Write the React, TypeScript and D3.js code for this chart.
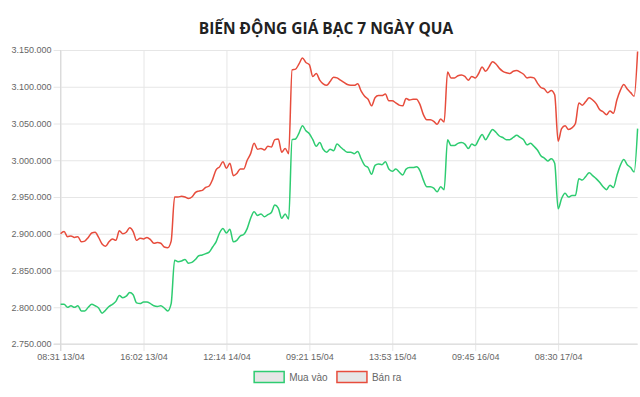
import React, { useEffect, useRef } from 'react';
import * as d3 from 'd3';

// gia mua vao / ban ra (dong / luong), 168 moc trong 7 ngay
const buyPrices = [
  2804, 2804, 2800, 2802, 2800, 2802, 2795, 2795, 2800, 2804, 2802, 2799, 2792, 2796, 2801, 2804,
  2808, 2816, 2813, 2815, 2820, 2817, 2806, 2805, 2807, 2807, 2805, 2802, 2801, 2802, 2799, 2795,
  2805, 2864, 2862, 2863, 2865, 2860, 2861, 2865, 2870, 2871, 2873, 2875, 2882, 2889, 2901, 2907,
  2901, 2906, 2889, 2891, 2897, 2899, 2907, 2921, 2930, 2925, 2927, 2923, 2926, 2929, 2939, 2935,
  2921, 2927, 2920, 3028, 3029, 3037, 3047, 3040, 3036, 3028, 3019, 3024, 3015, 3011, 3015, 3013,
  3022, 3018, 3014, 3011, 3011, 3009, 3012, 3002, 2993, 2990, 2981, 2993, 2995, 2994, 2998, 2988,
  2985, 2988, 2984, 2980, 2988, 2990, 2990, 2991, 2986, 2973, 2964, 2964, 2962, 2957, 2964, 2960,
  3028, 3020, 3020, 3023, 3024, 3022, 3016, 3022, 3020, 3028, 3035, 3028, 3035, 3042, 3038, 3033,
  3031, 3028, 3028, 3031, 3034, 3031, 3028, 3021, 3023, 3019, 3014, 3006, 3003, 2999, 3002, 2996,
  2934, 2948, 2955, 2950, 2952, 2952, 2975, 2973, 2978, 2983, 2979, 2975, 2970, 2964, 2960, 2966,
  2963, 2979, 2993, 3001, 2994, 2990, 2984, 3043,
].map(v => v * 1000);

const sellPrices = [
  2900, 2903, 2896, 2897, 2895, 2896, 2889, 2890, 2895, 2901, 2902, 2895, 2886, 2883, 2889, 2893,
  2891, 2904, 2900, 2902, 2908, 2903, 2891, 2894, 2893, 2895, 2892, 2887, 2888, 2887, 2882, 2881,
  2890, 2950, 2950, 2951, 2950, 2948, 2950, 2956, 2958, 2959, 2963, 2965, 2974, 2987, 2991, 2998,
  2989, 2996, 2979, 2982, 2988, 2988, 3000, 3009, 3023, 3015, 3016, 3014, 3019, 3018, 3028, 3029,
  3011, 3016, 3009, 3123, 3124, 3131, 3139, 3133, 3130, 3114, 3118, 3109, 3104, 3102, 3107, 3113,
  3112, 3109, 3106, 3103, 3102, 3102, 3104, 3094, 3087, 3083, 3074, 3085, 3088, 3088, 3090, 3081,
  3081, 3078, 3075, 3074, 3084, 3082, 3083, 3083, 3076, 3062, 3055, 3055, 3053, 3049, 3056, 3052,
  3120, 3112, 3112, 3115, 3116, 3114, 3109, 3114, 3112, 3118, 3127, 3121, 3127, 3134, 3131, 3125,
  3121, 3119, 3118, 3121, 3122, 3120, 3117, 3112, 3113, 3112, 3105, 3099, 3097, 3092, 3095, 3089,
  3026, 3043, 3047, 3042, 3044, 3050, 3078, 3075, 3080, 3085, 3082, 3077, 3069, 3066, 3062, 3067,
  3064, 3082, 3095, 3103, 3097, 3092, 3087, 3148,
].map(v => v * 1000);

// nhan truc x, moi nhan cach nhau 24 moc
const tickLabels = ['08:31 13/04', '16:02 13/04', '12:14 14/04', '09:21 15/04', '13:53 15/04', '09:45 16/04', '08:30 17/04'];
const tickStep = 24;
const yTicks = [2750000, 2800000, 2850000, 2900000, 2950000, 3000000, 3050000, 3100000, 3150000];

const seriesNames = ['Mua vào', 'Bán ra'];
const seriesColors = ['#2ecc71', '#e74c3c'];

const width = 640;
const height = 397;
const margin = { top: 50, right: 2.4, bottom: 53, left: 60.6 };
const fmt = (v: number) => d3.format(',')(v).replace(/,/g, '.');

export default function App() {
  const svgRef = useRef<SVGSVGElement>(null);

  useEffect(() => {
    const svg = d3.select(svgRef.current);
    svg.selectAll('*').remove();

    const plotW = width - margin.left - margin.right;
    const plotB = height - margin.bottom;

    const x = d3.scaleLinear().domain([0, buyPrices.length - 1]).range([margin.left, margin.left + plotW]);
    const y = d3.scaleLinear().domain([2750000, 3150000]).range([plotB, margin.top]);

    const grid = '#e6e6e6';
    const labelFont = '"Liberation Sans", Arial, sans-serif';

    // truc y
    const yAxis = svg
      .append('g')
      .attr('transform', `translate(${margin.left - 7},0)`)
      .call(
        d3.axisLeft(y)
          .tickValues(yTicks)
          .tickFormat(d => fmt(+d))
          .tickSize(-(plotW + 7))
          .tickPadding(2)
      );
    yAxis.select('.domain').remove();
    yAxis.selectAll('line').attr('stroke', grid).attr('stroke-width', 1);
    yAxis.selectAll('text').attr('fill', '#666').attr('font-size', 9).attr('font-family', labelFont);

    // truc x
    const xAxis = svg
      .append('g')
      .attr('transform', `translate(0,${plotB + 7})`)
      .call(
        d3.axisBottom(x)
          .tickValues(tickLabels.map((_, i) => i * tickStep))
          .tickFormat(d => tickLabels[+d / tickStep])
          .tickSize(-(plotB + 7 - margin.top))
          .tickPadding(3)
      );
    xAxis.select('.domain').remove();
    xAxis.selectAll('line').attr('stroke', grid).attr('stroke-width', 1);
    xAxis.selectAll('text').attr('fill', '#666').attr('font-size', 9).attr('font-family', labelFont);

    // vien truc
    svg.append('line')
      .attr('x1', margin.left).attr('x2', margin.left)
      .attr('y1', margin.top).attr('y2', plotB + 7)
      .attr('stroke', '#d9d9d9');
    svg.append('line')
      .attr('x1', margin.left - 7).attr('x2', margin.left + plotW)
      .attr('y1', plotB).attr('y2', plotB)
      .attr('stroke', '#d9d9d9');

    const lineGen = d3.line<number>()
      .x((_, i) => x(i))
      .y(v => y(v))
      .curve(d3.curveMonotoneX);

    [buyPrices, sellPrices].forEach((data, k) => {
      svg.append('path')
        .datum(data)
        .attr('d', lineGen)
        .attr('fill', 'none')
        .attr('stroke', seriesColors[k])
        .attr('stroke-width', 1.5)
        .attr('stroke-linejoin', 'round');
    });

    // tieu de
    svg.append('text')
      .attr('x', width / 2 + 6)
      .attr('y', 34)
      .attr('text-anchor', 'middle')
      .attr('font-family', '"Open Sans", sans-serif')
      .attr('font-weight', 700)
      .attr('font-size', 15.5)
      .attr('fill', '#222')
      .text('BIẾN ĐỘNG GIÁ BẠC 7 NGÀY QUA');

    // chu thich
    const legend = svg.append('g');
    const items = legend.selectAll('g').data(seriesNames).join('g');
    items.append('rect')
      .attr('width', 30).attr('height', 11)
      .attr('y', 0.5)
      .attr('fill', '#e6e6e6')
      .attr('stroke', (_, i) => seriesColors[i])
      .attr('stroke-width', 1.5);
    items.append('text')
      .attr('x', 35).attr('y', 10)
      .attr('font-size', 10)
      .attr('font-family', labelFont)
      .attr('fill', '#666')
      .text(d => d);
    let offset = 0;
    items.each(function () {
      const g = d3.select(this);
      g.attr('transform', `translate(${offset},0)`);
      offset += (this as SVGGElement).getBBox().width + 9;
    });
    legend.attr('transform', `translate(${328 - (offset - 9) / 2},371)`);
  }, []);

  return (
    <svg
      ref={svgRef}
      width={width}
      height={height}
      style={{ position: 'absolute', left: 0, top: 0, background: '#fff' }}
    />
  );
}
